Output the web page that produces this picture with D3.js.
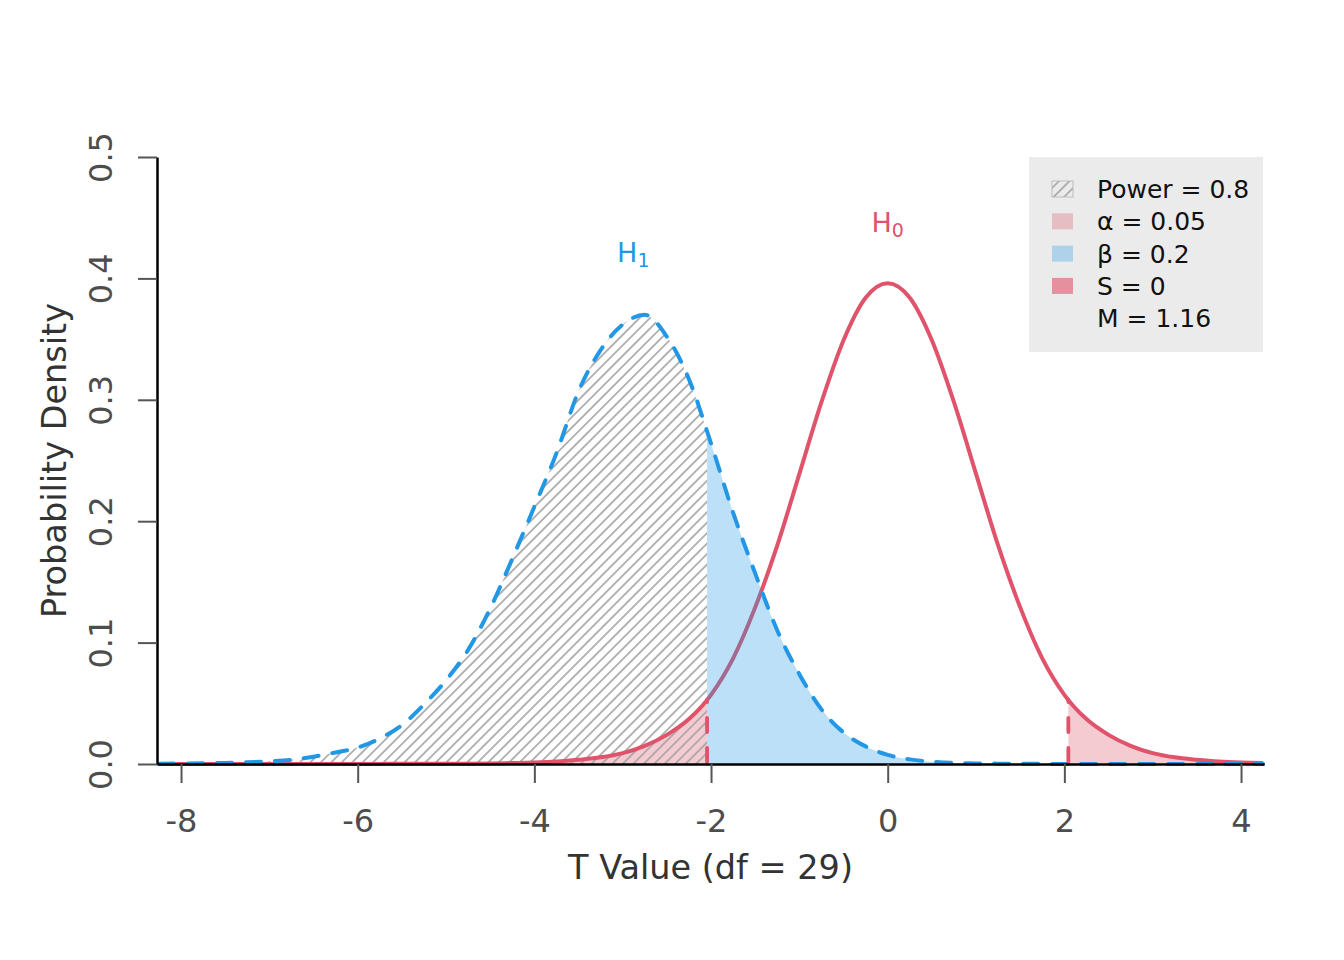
<!DOCTYPE html>
<html>
<head>
<meta charset="utf-8">
<script src="https://cdn.jsdelivr.net/npm/d3@7"></script>
<style>
  body { margin: 0; background: #fff; }
  svg { font-family: "DejaVu Sans", sans-serif; }
</style>
</head>
<body>
<div id="chart"></div>
<script>
const tValues = [
  -8.25, -8, -7.75, -7.5, -7.25, -7, -6.75, -6.5, -6.25, -6, -5.75, -5.5, -5.25, -5,
  -4.75, -4.5, -4.25, -4, -3.75, -3.5, -3.25, -3, -2.75, -2.5, -2.25, -2, -1.75, -1.5,
  -1.25, -1, -0.75, -0.5, -0.25, 0, 0.25, 0.5, 0.75, 1, 1.25, 1.5, 1.75, 2, 2.25, 2.5,
  2.75, 3, 3.25, 3.5, 3.75, 4, 4.25
];
// null distribution density (H0)
const h0Density = [
  0, 0, 0, 0, 0, 0, 0, 0.0001, 0.0001, 0.0001, 0.0001, 0.0002, 0.0002, 0.0002,
  0.0003, 0.0005, 0.0008, 0.0012, 0.002, 0.0035, 0.0055, 0.009, 0.015, 0.024, 0.037, 0.057, 0.087, 0.129,
  0.180, 0.239, 0.298, 0.349, 0.384, 0.396, 0.384, 0.349, 0.298, 0.239, 0.180, 0.129, 0.087, 0.057, 0.037, 0.024,
  0.015, 0.009, 0.0055, 0.0035, 0.002, 0.0012, 0.0008
];
// alternative distribution density (H1)
const h1Density = [
  0.0003, 0.0004, 0.0006, 0.0009, 0.0014, 0.0022, 0.0035, 0.006, 0.0095, 0.0135, 0.021, 0.032, 0.049, 0.069,
  0.094, 0.128, 0.169, 0.212, 0.256, 0.307, 0.341, 0.362, 0.370, 0.352, 0.317, 0.264, 0.207, 0.157,
  0.110, 0.074, 0.045, 0.026, 0.0145, 0.0075, 0.0038, 0.0019, 0.0009, 0.0005, 0.0003, 0.0002, 0.0001, 0.0001, 0, 0,
  0, 0, 0, 0, 0, 0, 0
];
const critT = 2.045;

const xTicks = [-8, -6, -4, -2, 0, 2, 4];
const yTicks = [0, 0.1, 0.2, 0.3, 0.4, 0.5];

// distribution labels: name, subscript, x, y
const curveLabels = [
  { name: 'H', sub: '1', t: -2.88, y: 0.4135, color: '#2297E6' },
  { name: 'H', sub: '0', t: 0, y: 0.438, color: '#DF536B' }
];

const legendNames = ['Power', 'α', 'β', 'S', 'M'];
const legendValues = ['0.8', '0.05', '0.2', '0', '1.16'];

const red = '#DF536B';
const blue = '#2297E6';

const width = 1344;
const height = 960;
const plot = { left: 157, right: 1264, top: 157, bottom: 764 };

const svg = d3.select('#chart')
  .append('svg')
  .attr('width', width)
  .attr('height', height);

const xScale = d3.scaleLinear().domain([-8.272, 4.26]).range([plot.left, plot.right]);
const yScale = d3.scaleLinear().domain([0, 0.5]).range([plot.bottom, plot.top]);

const h0 = tValues.map((t, i) => ({ t, d: h0Density[i] }));
const h1 = tValues.map((t, i) => ({ t, d: h1Density[i] }));

const defs = svg.append('defs');

// hatch used for the power area
const hatch = defs.append('pattern')
  .attr('id', 'hatch')
  .attr('patternUnits', 'userSpaceOnUse')
  .attr('width', 7.4)
  .attr('height', 10)
  .attr('patternTransform', 'rotate(45)');
hatch.append('line')
  .attr('x1', 3.7).attr('x2', 3.7)
  .attr('y1', 0).attr('y2', 10)
  .attr('stroke', '#a3a3a3')
  .attr('stroke-width', 1.6);

// clip regions: rejection region and acceptance region
const rejectClip = defs.append('clipPath').attr('id', 'reject');
rejectClip.append('rect')
  .attr('x', plot.left)
  .attr('y', plot.top)
  .attr('width', xScale(-critT) - plot.left)
  .attr('height', plot.bottom - plot.top);
rejectClip.append('rect')
  .attr('x', xScale(critT))
  .attr('y', plot.top)
  .attr('width', plot.right - xScale(critT))
  .attr('height', plot.bottom - plot.top);

const acceptClip = defs.append('clipPath').attr('id', 'accept');
acceptClip.append('rect')
  .attr('x', xScale(-critT))
  .attr('y', plot.top)
  .attr('width', xScale(critT) - xScale(-critT))
  .attr('height', plot.bottom - plot.top);

const area = d3.area()
  .x(d => xScale(d.t))
  .y0(yScale(0))
  .y1(d => yScale(d.d))
  .curve(d3.curveMonotoneX);

const line = d3.line()
  .x(d => xScale(d.t))
  .y(d => yScale(d.d))
  .curve(d3.curveMonotoneX);

// alpha area under H0
svg.append('path')
  .datum(h0)
  .attr('d', area)
  .attr('clip-path', 'url(#reject)')
  .attr('fill', red)
  .attr('fill-opacity', 0.3);

// power area under H1
svg.append('path')
  .datum(h1)
  .attr('d', area)
  .attr('clip-path', 'url(#reject)')
  .attr('fill', 'url(#hatch)');

// H0 curve
svg.append('path')
  .datum(h0)
  .attr('d', line)
  .attr('fill', 'none')
  .attr('stroke', red)
  .attr('stroke-width', 4)
  .attr('stroke-linejoin', 'round');

// beta area under H1
svg.append('path')
  .datum(h1)
  .attr('d', area)
  .attr('clip-path', 'url(#accept)')
  .attr('fill', blue)
  .attr('fill-opacity', 0.3);

// H1 curve, dashed
svg.append('path')
  .datum(h1)
  .attr('d', line)
  .attr('fill', 'none')
  .attr('stroke', blue)
  .attr('stroke-width', 4)
  .attr('stroke-dasharray', '15,14')
  .attr('stroke-linecap', 'round');

// critical values
svg.selectAll('.crit')
  .data([-critT, critT])
  .join('line')
  .attr('class', 'crit')
  .attr('x1', d => xScale(d))
  .attr('x2', d => xScale(d))
  .attr('y1', yScale(0) - 2)
  .attr('y2', d => yScale(h0Density[tValues.indexOf(2)] - 0.004))
  .attr('stroke', red)
  .attr('stroke-width', 3.8)
  .attr('stroke-dasharray', '14,16')
  .attr('stroke-linecap', 'round');

// axes
const xAxis = svg.append('g')
  .attr('transform', `translate(0, ${plot.bottom})`)
  .call(d3.axisBottom(xScale).tickValues(xTicks).tickSize(19).tickSizeOuter(0)
    .tickPadding(26).tickFormat(d => String(d)));
xAxis.select('.domain').attr('stroke', '#000').attr('stroke-width', 2.5);
xAxis.selectAll('.tick line').attr('stroke', '#555').attr('stroke-width', 2);
xAxis.selectAll('.tick text')
  .attr('fill', '#4d4d4d')
  .style('font-size', '32px')
  .style('font-family', 'DejaVu Sans');

const yAxis = svg.append('g')
  .attr('transform', `translate(${plot.left}, 0)`)
  .call(d3.axisLeft(yScale).tickValues(yTicks).tickSize(19).tickSizeOuter(0)
    .tickFormat(d3.format('.1f')));
yAxis.select('.domain').attr('stroke', '#000').attr('stroke-width', 2.5);
yAxis.selectAll('.tick line').attr('stroke', '#555').attr('stroke-width', 2);
yAxis.selectAll('.tick text')
  .attr('x', null)
  .attr('dy', null)
  .attr('transform', 'translate(-45, 0) rotate(-90)')
  .attr('text-anchor', 'middle')
  .attr('fill', '#4d4d4d')
  .style('font-size', '32px')
  .style('font-family', 'DejaVu Sans');

// axis titles
svg.append('text')
  .attr('x', (plot.left + plot.right) / 2)
  .attr('y', 879)
  .attr('text-anchor', 'middle')
  .attr('fill', '#333')
  .style('font-size', '33.5px')
  .text('T Value (df = 29)');

svg.append('text')
  .attr('transform', `translate(66, ${(plot.top + plot.bottom) / 2}) rotate(-90)`)
  .attr('text-anchor', 'middle')
  .attr('fill', '#333')
  .style('font-size', '33.5px')
  .text('Probability Density');

// H0 / H1 labels
const labels = svg.selectAll('.hlabel')
  .data(curveLabels)
  .join('text')
  .attr('class', 'hlabel')
  .attr('x', d => xScale(d.t))
  .attr('y', d => yScale(d.y))
  .attr('text-anchor', 'middle')
  .attr('fill', d => d.color)
  .style('font-size', '27px');
labels.append('tspan').text(d => d.name);
labels.append('tspan')
  .attr('dy', 5)
  .style('font-size', '19px')
  .text(d => d.sub);

// legend
const legend = svg.append('g');
legend.append('rect')
  .attr('x', 1029)
  .attr('y', 157)
  .attr('width', 234)
  .attr('height', 195)
  .attr('fill', '#ebebeb');

const rowY = i => 198 + i * 32.3;
const swatchFills = ['url(#hatch)', red, blue, red, null];
const swatchOpacity = [1, 0.3, 0.3, 0.6, 0];

legend.selectAll('.swatch')
  .data(legendNames.slice(0, 4))
  .join('rect')
  .attr('class', 'swatch')
  .attr('x', 1052)
  .attr('y', (d, i) => rowY(i) - 17)
  .attr('width', 21)
  .attr('height', 16)
  .attr('fill', (d, i) => swatchFills[i])
  .attr('fill-opacity', (d, i) => swatchOpacity[i])
  .attr('stroke', (d, i) => i === 0 ? '#bdbdbd' : 'none')
  .attr('stroke-width', 1);

legend.selectAll('.ltext')
  .data(legendNames)
  .join('text')
  .attr('class', 'ltext')
  .attr('x', 1097)
  .attr('y', (d, i) => rowY(i))
  .attr('fill', '#111')
  .style('font-size', '25px')
  .text((d, i) => `${d} = ${legendValues[i]}`);
</script>
</body>
</html>
